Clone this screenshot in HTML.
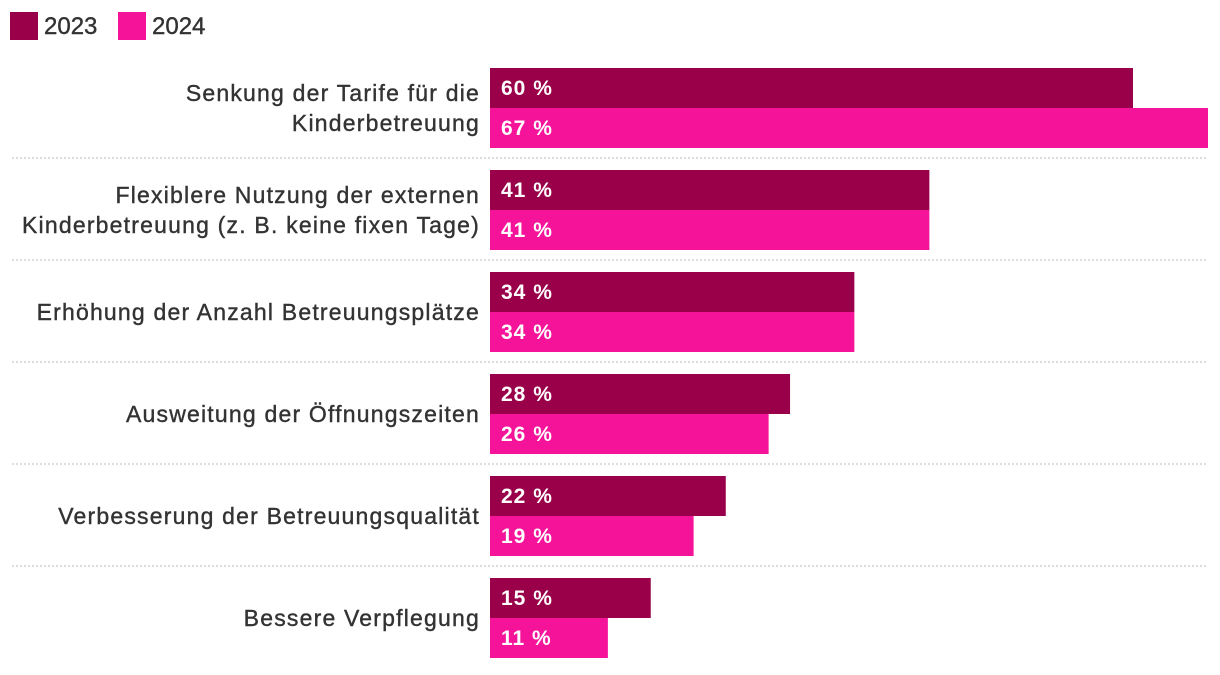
<!DOCTYPE html>
<html><head><meta charset="utf-8"><style>
body{margin:0;background:#fff;width:1220px;height:670px;overflow:hidden;font-family:"Liberation Sans",sans-serif}
</style></head><body>
<svg width="1220" height="670">
<g>
<rect x="10" y="12" width="28" height="28" fill="#990049"/>
<text x="44" y="34" font-size="24" fill="#333" stroke="#333" stroke-width="0.4">2023</text>
<rect x="118" y="12" width="28" height="28" fill="#f5139a"/>
<text x="152" y="34" font-size="24" fill="#333" stroke="#333" stroke-width="0.4">2024</text>
</g>
<g id="plot"></g>
</svg>
<script>
const categories=[["Senkung der Tarife für die","Kinderbetreuung"],["Flexiblere Nutzung der externen","Kinderbetreuung (z. B. keine fixen Tage)"],["Erhöhung der Anzahl Betreuungsplätze"],["Ausweitung der Öffnungszeiten"],["Verbesserung der Betreuungsqualität"],["Bessere Verpflegung"]];
const values2023=[60,41,34,28,22,15];
const values2024=[67,41,34,26,19,11];
const NS="http://www.w3.org/2000/svg";
const g=document.getElementById('plot');
const x0=490,pxPer=718/67,top0=68,pitch=102,bh=40;
function xs(v){return v*pxPer;}
function yb(i){return top0+i*pitch;}
function mk(t,a){const e=document.createElementNS(NS,t);for(const k in a)e.setAttribute(k,a[k]);g.appendChild(e);return e;}
categories.forEach((c,i)=>{
  const y=yb(i);
  [[values2023,"#990049","2023"],[values2024,"#f5139a","2024"]].forEach((s,j)=>{
    const r=mk('rect',{x:x0,y:y+j*bh,width:xs(s[0][i]),height:bh,fill:s[1]});
    
    
    const t=mk('text',{x:x0+11,y:y+j*bh+27,'font-size':21,'font-weight':'bold','letter-spacing':1,fill:'#fff'});
    t.textContent=s[0][i]+' %';
    
    
  });
  const n=c.length,cy=y+bh;
  c.forEach((line,k)=>{
    const t=mk('text',{x:480,y:cy+8+(k-(n-1)/2)*30,'font-size':23,'letter-spacing':1.2,fill:'#333',stroke:'#333','stroke-width':0.4,'text-anchor':'end'});
    t.textContent=line;
    
    
  });
  if(i<categories.length-1){
    const l=mk('line',{x1:12,x2:1208,y1:y+90,y2:y+90,stroke:'#bbb','stroke-width':1,'stroke-dasharray':'2,2'});
    
    
  }
});
</script>
</body></html>
